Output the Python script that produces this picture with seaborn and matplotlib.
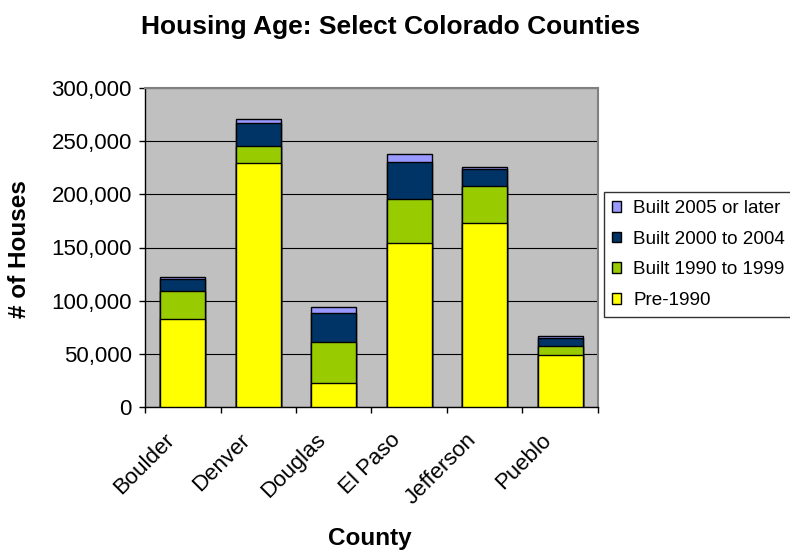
import matplotlib
matplotlib.use("Agg")
import matplotlib.pyplot as plt
import matplotlib.transforms as mtransforms
import seaborn as sns
import numpy as np
import pandas as pd
from matplotlib.ticker import FuncFormatter, FixedLocator
from matplotlib.patches import Patch

counties = ["Boulder", "Denver", "Douglas", "El Paso", "Jefferson", "Pueblo"]
pre_1990 = [82500, 229500, 22300, 154600, 173400, 48600]
built_1990_1999 = [27000, 16000, 38600, 41400, 34800, 8500]
built_2000_2004 = [10800, 22000, 27800, 34500, 15500, 8100]
built_2005_later = [2000, 3200, 5700, 7900, 2100, 1300]

series_names = ["Pre-1990", "Built 1990 to 1999", "Built 2000 to 2004", "Built 2005 or later"]
series_vals = [pre_1990, built_1990_1999, built_2000_2004, built_2005_later]
colors = ["#FFFF00", "#99CC00", "#003366", "#9999FF"]

sns.set_theme(style="white")
plt.rcParams["font.family"] = ["Liberation Sans", "DejaVu Sans"]
plt.rcParams["text.color"] = "black"
plt.rcParams["axes.labelcolor"] = "black"
plt.rcParams["xtick.color"] = "black"
plt.rcParams["ytick.color"] = "black"

fig = plt.figure(figsize=(7.9, 5.5), dpi=100)
ax = fig.add_axes([145 / 790, 1 - 407 / 550, 453 / 790, 319 / 550])
ax.set_facecolor("#C0C0C0")

cum = np.cumsum(np.array(series_vals), axis=0)
# draw from top to bottom so lower segments overlay
for i in range(len(series_names) - 1, -1, -1):
    df = pd.DataFrame({"County": counties, "Value": cum[i]})
    sns.barplot(data=df, x="County", y="Value", color=colors[i], saturation=1,
                width=0.6, edgecolor="black", linewidth=1, ax=ax, zorder=3)

ax.set_ylim(0, 300000)
ax.set_xlim(-0.5, len(counties) - 0.5)
ax.set_yticks(np.arange(0, 300001, 50000))
ax.yaxis.set_major_formatter(FuncFormatter(lambda v, p: f"{int(v):,}"))
ax.grid(axis="y", color="black", linewidth=0.8, zorder=1)
ax.set_axisbelow(True)

ax.xaxis.set_minor_locator(FixedLocator(np.arange(-0.5, len(counties), 1)))
ax.tick_params(axis="x", which="major", length=0, labelsize=16, pad=12)
ax.tick_params(axis="x", which="minor", length=4.5, direction="out", color="black", width=1, bottom=True)
ax.tick_params(axis="y", length=4.5, direction="out", color="black", width=1, labelsize=16, left=True, pad=5)
offset = mtransforms.ScaledTranslation(-0.19, -0.06, fig.dpi_scale_trans)
for lab in ax.get_xticklabels():
    lab.set_rotation(45)
    lab.set_ha("right")
    lab.set_rotation_mode("anchor")
    lab.set_transform(lab.get_transform() + offset)

for s in ["top", "right"]:
    ax.spines[s].set_color("#808080")
    ax.spines[s].set_linewidth(1.5)
for s in ["left", "bottom"]:
    ax.spines[s].set_color("black")
    ax.spines[s].set_linewidth(1)

ax.set_xlabel("")
ax.set_ylabel("")
fig.text(370 / 790, 1 - 538 / 550, "County", fontsize=17.5, fontweight="bold",
         ha="center", va="center")
fig.text(20 / 790, 1 - 249 / 550, "# of Houses", fontsize=17.5, fontweight="bold",
         ha="center", va="center", rotation=90)
fig.text(391 / 790, 1 - 27 / 550, "Housing Age: Select Colorado Counties",
         fontsize=19, fontweight="bold", ha="center", va="center")

handles = [Patch(facecolor=colors[i], edgecolor="black", label=series_names[i])
           for i in range(len(series_names) - 1, -1, -1)]
leg = ax.legend(handles=handles, loc="center left", bbox_to_anchor=(604 / 790, 1 - 254.5 / 550),
                bbox_transform=fig.transFigure, frameon=True, fancybox=False, fontsize=13.6,
                handlelength=0.5, handleheight=0.5, handletextpad=0.63, labelspacing=0.72,
                borderpad=0.42, borderaxespad=0)
leg.get_frame().set_edgecolor("black")
leg.get_frame().set_linewidth(1)

fig.savefig("out.png", dpi=100, facecolor="white")
